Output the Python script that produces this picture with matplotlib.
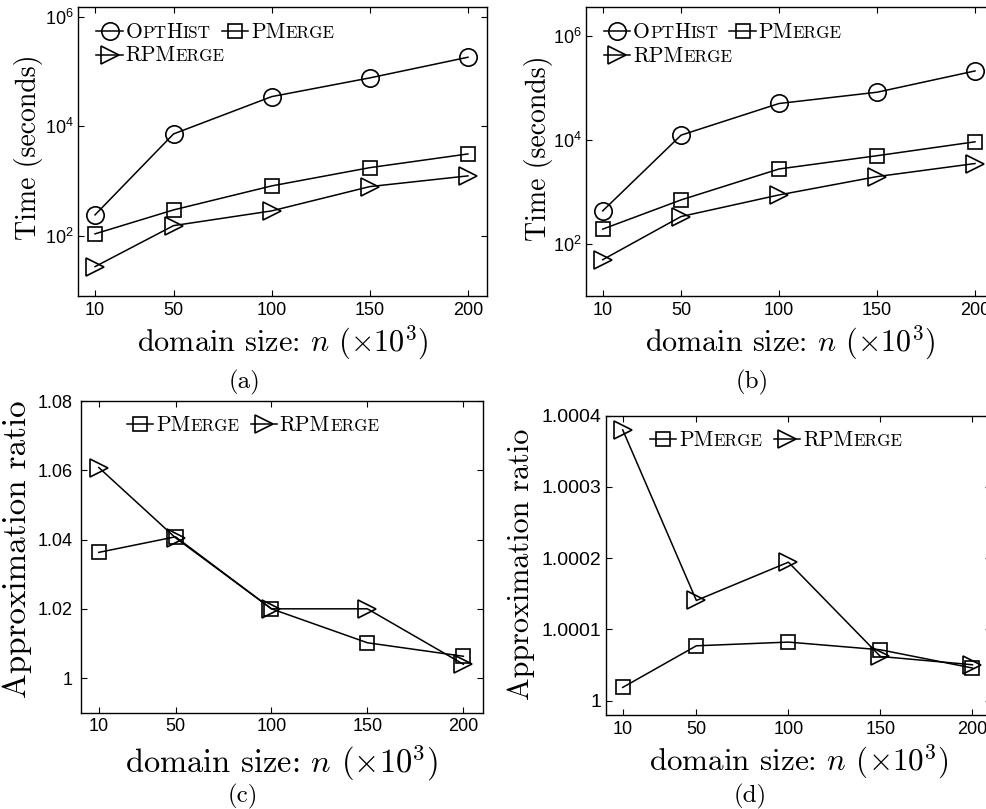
import numpy as np
import matplotlib
matplotlib.use("Agg")
import matplotlib.pyplot as plt
from matplotlib.lines import Line2D
from matplotlib.ticker import FormatStrFormatter, NullLocator
from matplotlib.offsetbox import (AnchoredOffsetbox, DrawingArea, HPacker,
                                  TextArea, VPacker)

plt.rcParams['font.family'] = 'Liberation Sans'
plt.rcParams['mathtext.fontset'] = 'cm'

# domain size n (x10^3)
n_vals = [10, 50, 100, 150, 200]
x_ticks = [10, 50, 100, 150, 200]

# (a) running time [s]
a_opthist = [242, 7260, 34800, 76400, 182000]
a_pmerge = [109, 298, 817, 1760, 3130]
a_rpmerge = [27.5, 154, 286, 794, 1245]

# (b) running time [s]
b_opthist = [436, 12500, 50800, 83700, 215000]
b_pmerge = [194, 708, 2790, 5020, 9300]
b_rpmerge = [50, 339, 883, 1990, 3550]

# (c) approximation ratio
c_pmerge = [1.0363, 1.0408, 1.0200, 1.0102, 1.0063]
c_rpmerge = [1.0608, 1.0405, 1.0200, 1.0200, 1.0040]

# (d) approximation ratio
d_pmerge = [1.0000187, 1.0000771, 1.0000823, 1.0000715, 1.0000459]
d_rpmerge = [1.000380, 1.0001407, 1.0001944, 1.0000621, 1.0000505]

time_ticks = [1e2, 1e4, 1e6]
c_ticks = [1.0, 1.02, 1.04, 1.06, 1.08]
d_ticks = [1.0, 1.0001, 1.0002, 1.0003, 1.0004]

BIG = 15.5
SMALL = 12.3
# small caps are faked with two font sizes
OPTHIST_LABEL = [('O', BIG), ('PT', SMALL), ('H', BIG), ('IST', SMALL)]
PMERGE_LABEL = [('PM', BIG), ('ERGE', SMALL)]
RPMERGE_LABEL = [('RPM', BIG), ('ERGE', SMALL)]

STYLE = {'opthist': ('o', 12.5),
         'pmerge': ('s', 10.5),
         'rpmerge': ('>', 13)}

XLABEL = r'domain size: $n$ $(\times 10^3)$'


def legend_entry(key, parts):
    marker, ms = STYLE[key]
    da = DrawingArea(19, 12, 0, 4)
    da.add_artist(Line2D([0, 19], [4.8, 4.8], color='k', lw=1.1))
    da.add_artist(Line2D([9.5], [4.8], marker=marker, ms=ms, mfc='none',
                         mec='k', mew=1.2))
    texts = [TextArea(s, textprops=dict(family='cmr10', size=sz))
             for s, sz in parts]
    label = HPacker(children=texts, align='baseline', pad=0, sep=0)
    return HPacker(children=[da, label], align='baseline', pad=0, sep=2)


def add_legend(ax, rows, x, y):
    packed = []
    for row in rows:
        packed.append(HPacker(children=[legend_entry(k, p) for k, p in row],
                              align='baseline', pad=0, sep=8))
    box = VPacker(children=packed, align='left', pad=0, sep=2)
    anchored = AnchoredOffsetbox(loc='upper left', child=box, pad=0,
                                 borderpad=0, frameon=False,
                                 bbox_to_anchor=(x, y),
                                 bbox_transform=ax.transAxes)
    ax.add_artist(anchored)


def plot_series(ax, key, vals):
    marker, ms = STYLE[key]
    ax.plot(n_vals, vals, color='k', lw=1.1, marker=marker, ms=ms,
            mfc='none', mec='k', mew=1.2)


def style_axes(ax, xlim, ypad, ysize=13):
    ax.set_xlim(xlim)
    ax.set_xticks(x_ticks)
    ax.tick_params(direction='in', top=True, right=True, length=4,
                   width=0.8, labelsize=13)
    ax.tick_params(axis='x', pad=4)
    ax.tick_params(axis='y', pad=ypad, labelsize=ysize)
    for sp in ax.spines.values():
        sp.set_linewidth(1.0)


def caption(x, y, s):
    fig.text(x / 987, 1 - y / 809, s, family='cmr10', size=18,
             ha='center', va='center')


fig = plt.figure(figsize=(9.87, 8.09), dpi=100)

# (a)
ax = fig.add_axes([0.0790, 0.6341, 0.4144, 0.3572])
plot_series(ax, 'opthist', a_opthist)
plot_series(ax, 'pmerge', a_pmerge)
plot_series(ax, 'rpmerge', a_rpmerge)
ax.set_yscale('log')
ax.set_ylim(8, 1.5e6)
ax.set_yticks(time_ticks)
ax.yaxis.set_minor_locator(NullLocator())
style_axes(ax, (1.3, 209.7), 3)
ax.set_xlabel(XLABEL, family='cmr10', size=21.8)
ax.xaxis.set_label_coords(0.5, -0.094)
ax.set_ylabel('Time (seconds)', family='cmr10', size=20)
ax.yaxis.set_label_coords(-0.086, 0.514)
add_legend(ax, [[('opthist', OPTHIST_LABEL), ('pmerge', PMERGE_LABEL)],
                [('rpmerge', RPMERGE_LABEL)]], 0.045, 0.948)
caption(245, 382, '(a)')

# (b)
ax = fig.add_axes([0.5934, 0.6341, 0.4137, 0.3568])
plot_series(ax, 'opthist', b_opthist)
plot_series(ax, 'pmerge', b_pmerge)
plot_series(ax, 'rpmerge', b_rpmerge)
ax.set_yscale('log')
ax.set_ylim(10, 3.6e6)
ax.set_yticks(time_ticks)
ax.yaxis.set_minor_locator(NullLocator())
style_axes(ax, (1.3, 209.7), 3)
ax.set_xlabel(XLABEL, family='cmr10', size=21.7)
ax.xaxis.set_label_coords(0.5, -0.097)
ax.set_ylabel('Time (seconds)', family='cmr10', size=20)
ax.yaxis.set_label_coords(-0.080, 0.511)
add_legend(ax, [[('opthist', OPTHIST_LABEL), ('pmerge', PMERGE_LABEL)],
                [('rpmerge', RPMERGE_LABEL)]], 0.045, 0.948)
caption(752, 382, '(b)')

# (c)
ax = fig.add_axes([0.0818, 0.1190, 0.4073, 0.3853])
plot_series(ax, 'pmerge', c_pmerge)
plot_series(ax, 'rpmerge', c_rpmerge)
ax.set_ylim(0.99, 1.08)
ax.set_yticks(c_ticks)
ax.yaxis.set_major_formatter(FormatStrFormatter('%g'))
style_axes(ax, (0.6, 210.1), 6)
ax.set_xlabel(XLABEL, family='cmr10', size=23.4)
ax.xaxis.set_label_coords(0.5, -0.097)
ax.set_ylabel('Approximation ratio', family='cmr10', size=23.8)
ax.yaxis.set_label_coords(-0.121, 0.525)
add_legend(ax, [[('pmerge', PMERGE_LABEL), ('rpmerge', RPMERGE_LABEL)]],
           0.115, 0.955)
caption(243, 796, '(c)')

# (d)
ax = fig.add_axes([0.6137, 0.1162, 0.3904, 0.3700])
plot_series(ax, 'pmerge', d_pmerge)
plot_series(ax, 'rpmerge', d_rpmerge)
ax.set_ylim(0.99998, 1.0004)
ax.set_yticks(d_ticks)
ax.yaxis.set_major_formatter(FormatStrFormatter('%g'))
style_axes(ax, (0.76, 210.1), 3, 14)
ax.set_xlabel(XLABEL, family='cmr10', size=22.4)
ax.xaxis.set_label_coords(0.5, -0.090)
ax.set_ylabel('Approximation ratio', family='cmr10', size=21.7)
ax.yaxis.set_label_coords(-0.183, 0.505)
add_legend(ax, [[('pmerge', PMERGE_LABEL), ('rpmerge', RPMERGE_LABEL)]],
           0.115, 0.95)
caption(750, 796, '(d)')

fig.savefig('out.png', dpi=100)
